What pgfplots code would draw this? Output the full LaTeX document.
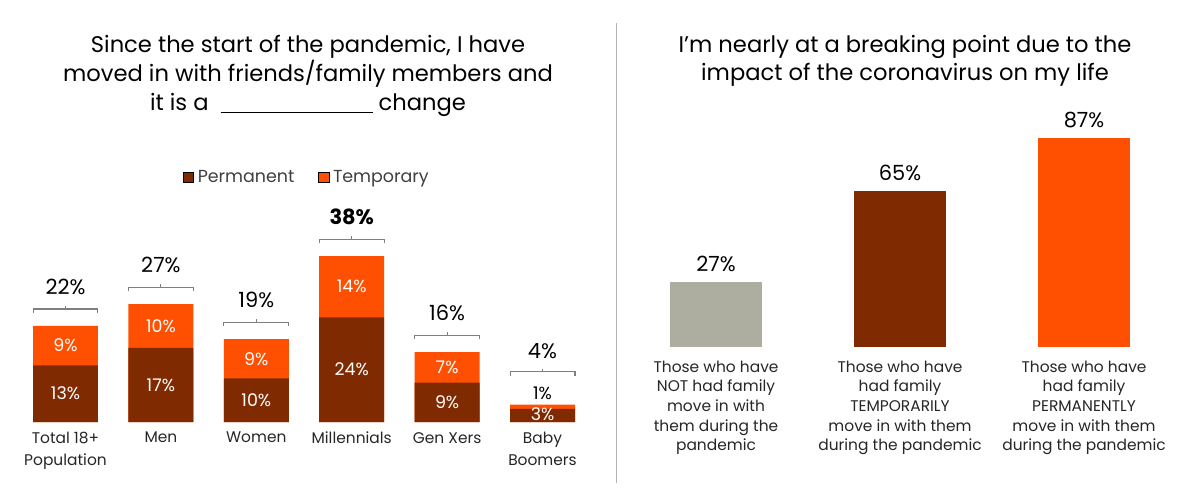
\documentclass[border=0pt]{standalone}
\usepackage{fontspec}
\setmainfont{Poppins}
\usepackage{pgfplots}
\pgfplotsset{compat=1.18}
\definecolor{perm}{HTML}{7F2A00}
\definecolor{temp}{HTML}{FE5000}
\definecolor{notc}{HTML}{ADADA0}
\definecolor{brkc}{HTML}{7F7F7F}
\definecolor{divc}{HTML}{B4B4B4}
\definecolor{txt}{HTML}{262626}
\definecolor{legtxt}{HTML}{404040}
\begin{document}
\begin{tikzpicture}
\useasboundingbox (0bp,0bp) rectangle (1200bp,493bp);
\node[align=center, font=\fontsize{22.7}{29}\selectfont, text=black] at (308bp,417bp)
  {Since the start of the pandemic, I have\\moved in with friends/family members and\\it is a \ \rule[-2bp]{152bp}{0.8bp} change};
\node[align=center, font=\fontsize{22.7}{28}\selectfont, text=black] at (905bp,432bp)
  {I’m nearly at a breaking point due to the\\impact of the coronavirus on my life};
\draw[divc, line width=1bp] (616bp,10bp) -- (616bp,470bp);

\begin{axis}[at={(8.26bp,71bp)}, anchor=south west, scale only axis,
  width=591.5bp, height=218.2bp,
  xmin=-0.6, xmax=5.6, ymin=0, ymax=50,
  enlarge x limits=false, enlarge y limits=false, clip=false,
  axis line style={draw=none}, tick style={draw=none}, major tick length=0pt,
  ytick=\empty, xtick={0,1,2,3,4,5},
  xticklabels={{Total 18+\\Population},Men,Women,Millennials,Gen Xers,{Baby\\Boomers}},
  xticklabel style={align=center, inner sep=0pt, yshift=-10bp, text=txt, font=\fontsize{15.5}{22}\selectfont},
  legend columns=2,
  legend style={draw=none, at={(0.505,1.123)}, anchor=center, text=legtxt,
    font=\fontsize{17.5}{20}\selectfont,
    /tikz/every odd column/.append style={column sep=2bp},
    /tikz/every even column/.append style={column sep=22bp}},
]
\addlegendimage{area legend, fill=perm, draw=none, legend image post style={xscale=0.6, yscale=1.75}}
\addlegendentry{Permanent}
\addlegendimage{area legend, fill=temp, draw=none, legend image post style={xscale=0.6, yscale=1.75}}
\addlegendentry{Temporary}
% total (permanent + temporary) drawn in orange, permanent part drawn over it
\addplot[ybar, bar shift=0pt, bar width=0.681, fill=temp, draw=none, forget plot] coordinates {(0,22) (1,27) (2,19) (3,38) (4,16) (5,4)};
\addplot[ybar, bar shift=0pt, bar width=0.681, fill=perm, draw=none, forget plot] coordinates {(0,13) (1,17) (2,10) (3,24) (4,9) (5,3)};
% segment labels
\node[text=white, font=\fontsize{17.5}{18}\selectfont] at (axis cs:0,6.5) {13\%};
\node[text=white, font=\fontsize{17.5}{18}\selectfont] at (axis cs:0,17.5) {9\%};
\node[text=white, font=\fontsize{17.5}{18}\selectfont] at (axis cs:1,8.5) {17\%};
\node[text=white, font=\fontsize{17.5}{18}\selectfont] at (axis cs:1,22) {10\%};
\node[text=white, font=\fontsize{17.5}{18}\selectfont] at (axis cs:2,5) {10\%};
\node[text=white, font=\fontsize{17.5}{18}\selectfont] at (axis cs:2,14.5) {9\%};
\node[text=white, font=\fontsize{17.5}{18}\selectfont] at (axis cs:3,12) {24\%};
\node[text=white, font=\fontsize{17.5}{18}\selectfont] at (axis cs:3,31) {14\%};
\node[text=white, font=\fontsize{17.5}{18}\selectfont] at (axis cs:4,4.5) {9\%};
\node[text=white, font=\fontsize{17.5}{18}\selectfont] at (axis cs:4,12.5) {7\%};
\node[text=white, font=\fontsize{17.5}{18}\selectfont] at (axis cs:5,1.9) {3\%};
\node[text=black, font=\fontsize{17.5}{18}\selectfont] at (axis cs:5,6.6) {1\%};
% brackets
\draw[brkc,line width=1.1bp] ([yshift=-4bp]axis cs:-0.34,25.9) -- (axis cs:-0.34,25.9) -- (axis cs:0.34,25.9) -- ([yshift=-4bp]axis cs:0.34,25.9);
\draw[brkc,line width=1.1bp] (axis cs:0,25.9) -- ([yshift=3bp]axis cs:0,25.9);
\draw[brkc,line width=1.1bp] ([yshift=-4bp]axis cs:0.66,30.9) -- (axis cs:0.66,30.9) -- (axis cs:1.34,30.9) -- ([yshift=-4bp]axis cs:1.34,30.9);
\draw[brkc,line width=1.1bp] (axis cs:1,30.9) -- ([yshift=3bp]axis cs:1,30.9);
\draw[brkc,line width=1.1bp] ([yshift=-4bp]axis cs:1.66,22.9) -- (axis cs:1.66,22.9) -- (axis cs:2.34,22.9) -- ([yshift=-4bp]axis cs:2.34,22.9);
\draw[brkc,line width=1.1bp] (axis cs:2,22.9) -- ([yshift=3bp]axis cs:2,22.9);
\draw[brkc,line width=1.1bp] ([yshift=-4bp]axis cs:2.66,41.9) -- (axis cs:2.66,41.9) -- (axis cs:3.34,41.9) -- ([yshift=-4bp]axis cs:3.34,41.9);
\draw[brkc,line width=1.1bp] (axis cs:3,41.9) -- ([yshift=3bp]axis cs:3,41.9);
\draw[brkc,line width=1.1bp] ([yshift=-4bp]axis cs:3.66,19.9) -- (axis cs:3.66,19.9) -- (axis cs:4.34,19.9) -- ([yshift=-4bp]axis cs:4.34,19.9);
\draw[brkc,line width=1.1bp] (axis cs:4,19.9) -- ([yshift=3bp]axis cs:4,19.9);
\draw[brkc,line width=1.1bp] ([yshift=-4bp]axis cs:4.66,11.5) -- (axis cs:4.66,11.5) -- (axis cs:5.34,11.5) -- ([yshift=-4bp]axis cs:5.34,11.5);
\draw[brkc,line width=1.1bp] (axis cs:5,11.5) -- ([yshift=3bp]axis cs:5,11.5);
% totals
\node[text=black, font=\fontsize{21}{22}\selectfont] at (axis cs:0,30.9) {22\%};
\node[text=black, font=\fontsize{21}{22}\selectfont] at (axis cs:1,35.9) {27\%};
\node[text=black, font=\fontsize{21}{22}\selectfont] at (axis cs:2,27.9) {19\%};
\node[text=black, font=\fontsize{21}{22}\selectfont\bfseries] at (axis cs:3,46.9) {38\%};
\node[text=black, font=\fontsize{21}{22}\selectfont] at (axis cs:4,24.9) {16\%};
\node[text=black, font=\fontsize{21}{22}\selectfont] at (axis cs:5,16.3) {4\%};
\end{axis}

\begin{axis}[at={(624bp,146bp)}, anchor=south west, scale only axis,
  width=552bp, height=240bp,
  xmin=-0.5, xmax=2.5, ymin=0, ymax=100,
  enlarge x limits=false, enlarge y limits=false, clip=false,
  axis line style={draw=none}, tick style={draw=none}, major tick length=0pt,
  ytick=\empty, xtick={0,1,2},
  xticklabels={{Those who have\\NOT had family\\move in with\\them during the\\pandemic},
    {Those who have\\had family\\TEMPORARILY\\move in with them\\during the pandemic},
    {Those who have\\had family\\PERMANENTLY\\move in with them\\during the pandemic}},
  xticklabel style={align=center, inner sep=0pt, yshift=-13.5bp, text=txt, font=\fontsize{15.5}{19.7}\selectfont},
  nodes near coords, point meta=explicit symbolic,
  nodes near coords style={text=black, font=\fontsize{21}{22}\selectfont, anchor=south, inner sep=0pt, yshift=10bp},
]
\addplot[ybar, bar shift=0pt, bar width=0.5, fill=notc, draw=none] coordinates {(0,27) [27\%]};
\addplot[ybar, bar shift=0pt, bar width=0.5, fill=perm, draw=none] coordinates {(1,65) [65\%]};
\addplot[ybar, bar shift=0pt, bar width=0.5, fill=temp, draw=none] coordinates {(2,87) [87\%]};
\end{axis}
\end{tikzpicture}
\end{document}
